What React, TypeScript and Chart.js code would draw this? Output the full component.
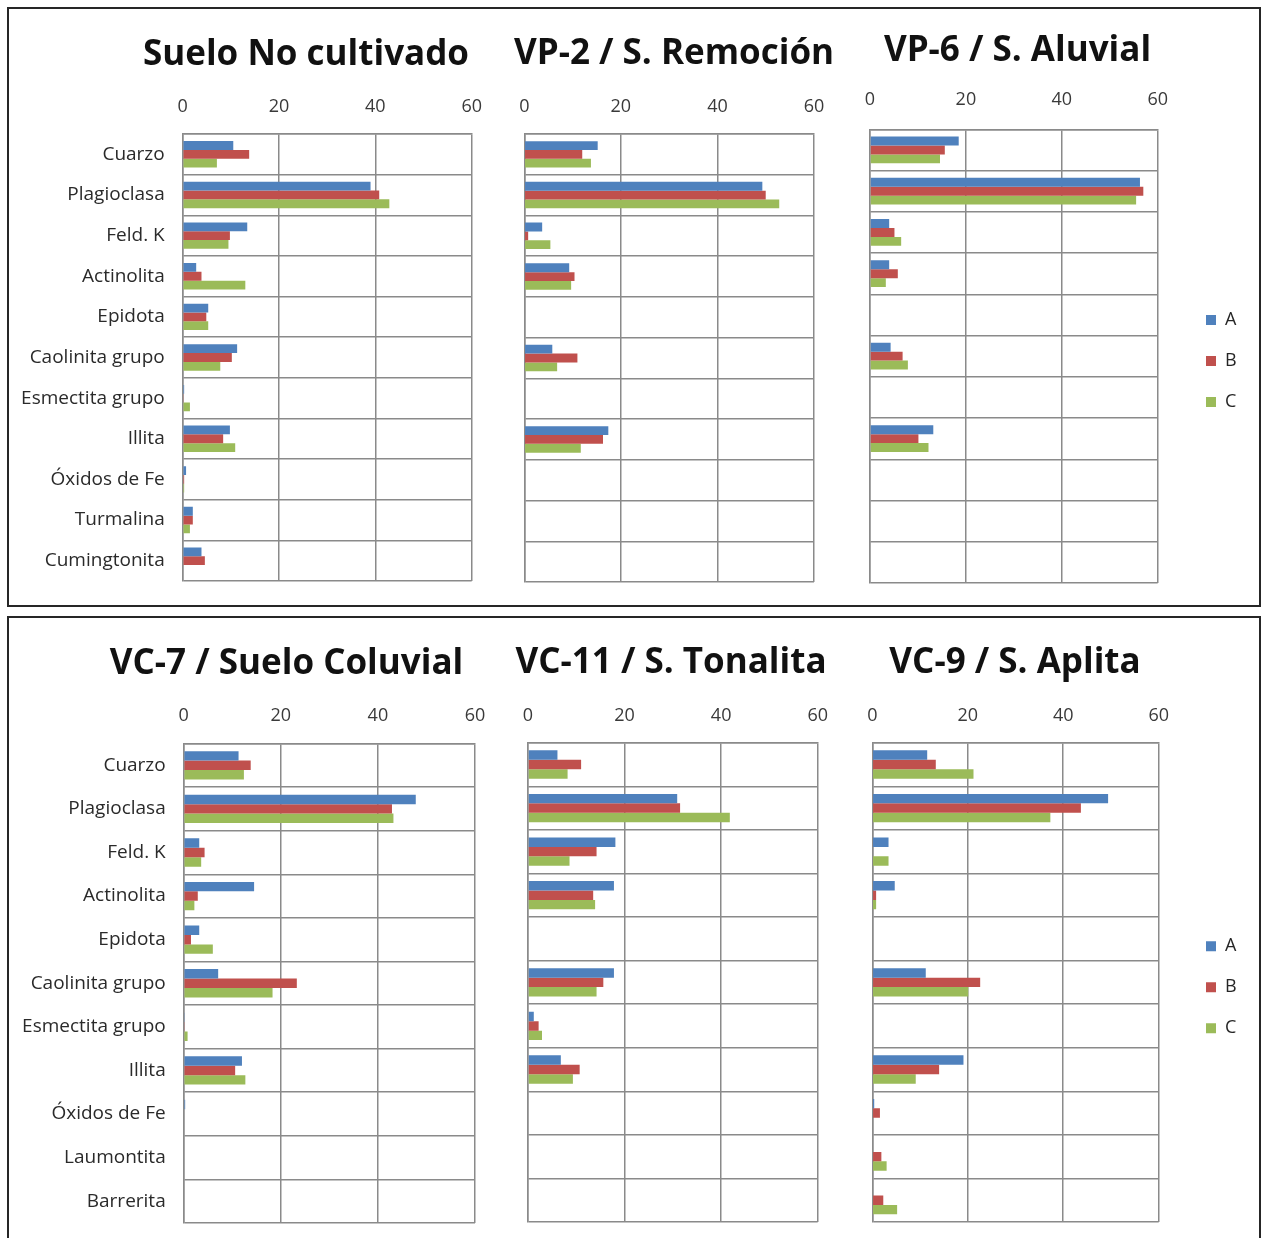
import React, { useEffect, useRef } from 'react';
import { Chart, registerables } from 'chart.js';

Chart.register(...registerables);

// ---------------- data ----------------
const seriesNames = ['A', 'B', 'C'];
const xTickValues = [0, 20, 40, 60];

const mineralsTop = ['Cuarzo', 'Plagioclasa', 'Feld. K', 'Actinolita', 'Epidota', 'Caolinita grupo', 'Esmectita grupo', 'Illita', 'Óxidos de Fe', 'Turmalina', 'Cumingtonita'];
const mineralsBottom = ['Cuarzo', 'Plagioclasa', 'Feld. K', 'Actinolita', 'Epidota', 'Caolinita grupo', 'Esmectita grupo', 'Illita', 'Óxidos de Fe', 'Laumontita', 'Barrerita'];

const titles = ['Suelo No cultivado', 'VP-2 / S. Remoción', 'VP-6 / S. Aluvial', 'VC-7 / Suelo Coluvial', 'VC-11 / S. Tonalita', 'VC-9 / S. Aplita'];

const noCultivadoA = [10.5, 39.0, 13.4, 2.8, 5.3, 11.3, 0.3, 9.8, 0.7, 2.1, 3.9];
const noCultivadoB = [13.8, 40.8, 9.8, 3.9, 4.9, 10.2, 0.2, 8.4, 0.3, 2.1, 4.6];
const noCultivadoC = [7.1, 42.9, 9.5, 13.0, 5.3, 7.8, 1.5, 10.9, 0.3, 1.5, null];

const vp2A = [15.2, 49.3, 3.7, 9.3, null, 5.8, null, 17.4, null, null, null];
const vp2B = [12.0, 50.0, 0.8, 10.4, null, 11.0, null, 16.3, null, null, null];
const vp2C = [13.8, 52.8, 5.4, 9.7, null, 6.8, null, 11.7, null, null, null];

const vp6A = [18.5, 56.3, 4.0, 4.0, null, 4.3, null, 13.2, null, null, null];
const vp6B = [15.6, 57.0, 5.1, 5.8, null, 6.8, null, 10.1, null, null, null];
const vp6C = [14.6, 55.5, 6.5, 3.3, null, 7.9, null, 12.2, null, null, null];

const vc7A = [11.3, 47.8, 3.2, 14.5, 3.2, 7.1, 0.2, 12.0, 0.3, null, null];
const vc7B = [13.8, 42.9, 4.3, 2.9, 1.5, 23.3, 0.2, 10.6, null, null, null];
const vc7C = [12.4, 43.2, 3.6, 2.2, 6.0, 18.3, 0.8, 12.7, null, null, null];

const vc11A = [6.1, 30.9, 18.1, 17.8, null, 17.8, 1.2, 6.8, null, null, null];
const vc11B = [11.0, 31.5, 14.2, 13.5, null, 15.6, 2.2, 10.7, null, null, null];
const vc11C = [8.2, 41.8, 8.6, 13.9, null, 14.2, 2.9, 9.3, null, null, null];

const vc9A = [11.5, 49.4, 3.4, 4.7, null, 11.2, null, 19.1, 0.4, null, null];
const vc9B = [13.3, 43.7, null, 0.8, null, 22.6, null, 14.0, 1.6, 1.9, 2.3];
const vc9C = [21.2, 37.3, 3.4, 0.8, null, 20.1, null, 9.1, null, 3.0, 5.2];

// ---------------- styles / layout ----------------
const TITLE_FONT = '"Open Sans", Lato, sans-serif';
const FONT = '"Open Sans", Lato, sans-serif';
const seriesColors = ['#4F81BD', '#C0504D', '#9BBB59'];
const GRID = '#8a8a8a';
const TITLE_SIZE = 35;
const TICK_SIZE = 18;
const LABEL_SIZE = 19;

type Geo = {
  cl: number; top: number; titleCX: number; titleCY: number; tickCY: number;
  plotL: number; plotR: number; plotT: number; plotB: number;
  side: number; legend: boolean; legendLeft: number; labels: boolean;
};

const geos: Geo[] = [
  { cl: 8, top: 12, titleCX: 306, titleCY: 55, tickCY: 106.5, plotL: 182.7, plotR: 471.7, plotT: 134, plotB: 580.5, side: 0, legend: false, legendLeft: 0, labels: true },
  { cl: 500, top: 12, titleCX: 674, titleCY: 54, tickCY: 106.5, plotL: 524.3, plotR: 814, plotT: 134, plotB: 581.7, side: 0, legend: false, legendLeft: 0, labels: false },
  { cl: 790, top: 12, titleCX: 1017.5, titleCY: 51, tickCY: 99.5, plotL: 870, plotR: 1157.7, plotT: 129.3, plotB: 582.7, side: 3, legend: true, legendLeft: 1183, labels: false },
  { cl: 8, top: 620, titleCX: 286.5, titleCY: 664, tickCY: 715.5, plotL: 183.7, plotR: 475, plotT: 743.5, plotB: 1222.7, side: 0, legend: false, legendLeft: 0, labels: true },
  { cl: 505, top: 620, titleCX: 671, titleCY: 663, tickCY: 715.5, plotL: 528, plotR: 817.7, plotT: 742.7, plotB: 1221.7, side: 0, legend: false, legendLeft: 0, labels: false },
  { cl: 785, top: 620, titleCX: 1015, titleCY: 663, tickCY: 715.5, plotL: 872.3, plotR: 1158.7, plotT: 742.7, plotB: 1222, side: 3, legend: true, legendLeft: 1183, labels: false },
];

type Props = { title: string; labels: string[]; series: (number | null)[][]; geo: Geo };

function MineralChart({ title, labels, series, geo }: Props) {
  const ref = useRef<HTMLCanvasElement | null>(null);
  const W = Math.round(2 * (geo.titleCX - geo.cl));
  const H = Math.round(geo.plotB + 3 - geo.top);

  useEffect(() => {
    const canvas = ref.current;
    if (!canvas) return;
    const innerLeft = geo.cl + geo.side;
    const innerRight = geo.cl + W - geo.side;
    const yW = geo.plotL - innerLeft;
    const legendW = geo.legend ? innerRight - geo.legendLeft : 0;
    const y2W = innerRight - legendW - geo.plotR;
    const titlePadTop = geo.titleCY - geo.top - TITLE_SIZE * 0.6;
    const titleBottom = geo.titleCY + TITLE_SIZE * 0.6;
    const xH = geo.plotT - titleBottom;
    const tickPad = geo.plotT - geo.tickCY - TICK_SIZE * 0.6;
    const legendPad = 23;

    const zeroPad = (s: any) => {
      s.paddingLeft = 0; s.paddingRight = 0; s.paddingTop = 0; s.paddingBottom = 0;
    };

    const chart = new Chart(canvas, {
      type: 'bar',
      data: {
        labels,
        datasets: series.map((d, i) => ({
          label: seriesNames[i],
          data: d,
          backgroundColor: seriesColors[i],
          borderWidth: 0,
          categoryPercentage: 0.65,
          barPercentage: 1.0,
          xAxisID: 'x',
          yAxisID: 'y',
        })),
      },
      options: {
        indexAxis: 'y',
        responsive: false,
        animation: false,
        devicePixelRatio: 1,
        layout: { padding: { left: geo.side, right: geo.side, top: 0, bottom: 3 } },
        scales: {
          x: {
            type: 'linear',
            position: 'top',
            min: 0,
            max: 60,
            afterBuildTicks: (s: any) => { s.ticks = xTickValues.map((v) => ({ value: v })); },
            ticks: { padding: tickPad, color: '#3a3a3a', font: { family: FONT, size: TICK_SIZE }, maxRotation: 0 },
            grid: { color: GRID, lineWidth: 1.5, drawTicks: false },
            border: { color: GRID, width: 1.5 },
            afterFit: (s: any) => { s.height = xH; zeroPad(s); },
          },
          y: {
            type: 'category',
            position: 'left',
            offset: true,
            ticks: { display: geo.labels, padding: 18, autoSkip: false, color: '#2a2a2a', font: { family: FONT, size: LABEL_SIZE } },
            grid: { color: GRID, lineWidth: 1.5, drawTicks: false, offset: true },
            border: { color: GRID, width: 1.5 },
            afterFit: (s: any) => { s.width = yW; zeroPad(s); },
          },
          y2: {
            type: 'linear',
            position: 'right',
            display: true,
            ticks: { display: false },
            grid: { display: false, drawTicks: false },
            border: { display: false },
            afterFit: (s: any) => { s.width = y2W; zeroPad(s); },
          },
        },
        plugins: {
          title: {
            display: true,
            text: title,
            color: '#111111',
            font: { family: TITLE_FONT, size: TITLE_SIZE, weight: 'bold', lineHeight: 1.2 },
            padding: { top: titlePadTop, bottom: 0 },
          },
          legend: geo.legend
            ? {
                display: true,
                position: 'right',
                align: 'center',
                fullSize: false,
                maxWidth: legendW,
                title: { display: true, text: '', font: { size: 8, lineHeight: 1.2 }, padding: 0 },
                labels: {
                  boxWidth: 10,
                  boxHeight: 10,
                  padding: legendPad,
                  color: '#262626',
                  font: { family: FONT, size: TICK_SIZE },
                },
              }
            : { display: false },
          tooltip: { enabled: false },
        },
      } as any,
    });
    return () => chart.destroy();
  }, []);

  return (
    <canvas
      ref={ref}
      width={W}
      height={H}
      style={{ position: 'absolute', left: geo.cl, top: geo.top, width: W, height: H }}
    />
  );
}

export default function App() {
  const panels: Props[] = [
    { title: titles[0], labels: mineralsTop, series: [noCultivadoA, noCultivadoB, noCultivadoC], geo: geos[0] },
    { title: titles[1], labels: mineralsTop, series: [vp2A, vp2B, vp2C], geo: geos[1] },
    { title: titles[2], labels: mineralsTop, series: [vp6A, vp6B, vp6C], geo: geos[2] },
    { title: titles[3], labels: mineralsBottom, series: [vc7A, vc7B, vc7C], geo: geos[3] },
    { title: titles[4], labels: mineralsBottom, series: [vc11A, vc11B, vc11C], geo: geos[4] },
    { title: titles[5], labels: mineralsBottom, series: [vc9A, vc9B, vc9C], geo: geos[5] },
  ];
  return (
    <div style={{ position: 'absolute', left: 0, top: 0, width: 1262, height: 1238, overflow: 'hidden', background: '#ffffff' }}>
      <div style={{ position: 'absolute', left: 7, top: 7, width: 1250, height: 596, border: '2px solid #262626' }} />
      <div style={{ position: 'absolute', left: 7, top: 616, width: 1250, height: 660, border: '2px solid #262626' }} />
      {panels.map((p, i) => (
        <MineralChart key={i} {...p} />
      ))}
    </div>
  );
}
